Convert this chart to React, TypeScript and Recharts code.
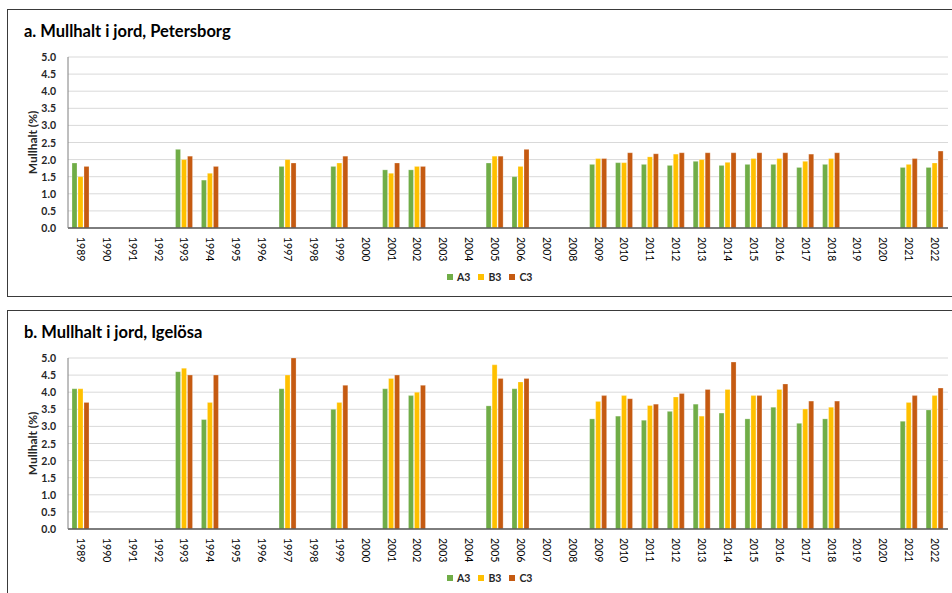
import React from 'react';
import { BarChart, Bar, XAxis, YAxis, CartesianGrid, Label } from 'recharts';

const years = [
  '1989', '1990', '1991', '1992', '1993', '1994', '1995', '1996', '1997', '1998',
  '1999', '2000', '2001', '2002', '2003', '2004', '2005', '2006', '2007', '2008',
  '2009', '2010', '2011', '2012', '2013', '2014', '2015', '2016', '2017', '2018',
  '2019', '2020', '2021', '2022',
];

const yTicks = [0, 0.5, 1, 1.5, 2, 2.5, 3, 3.5, 4, 4.5, 5];

// a. Petersborg
const petersborgA3 = [
  1.9, null, null, null, 2.3, 1.4, null, null, 1.8, null,
  1.8, null, 1.7, 1.7, null, null, 1.9, 1.5, null, null,
  1.86, 1.91, 1.86, 1.83, 1.95, 1.83, 1.86, 1.86, 1.77, 1.86,
  null, null, 1.77, 1.77,
];
const petersborgB3 = [
  1.5, null, null, null, 2.0, 1.6, null, null, 2.0, null,
  1.9, null, 1.6, 1.8, null, null, 2.1, 1.8, null, null,
  2.03, 1.91, 2.08, 2.16, 2.0, 1.92, 2.03, 2.03, 1.95, 2.03,
  null, null, 1.86, 1.9,
];
const petersborgC3 = [
  1.8, null, null, null, 2.1, 1.8, null, null, 1.9, null,
  2.1, null, 1.9, 1.8, null, null, 2.1, 2.3, null, null,
  2.03, 2.2, 2.17, 2.2, 2.2, 2.2, 2.2, 2.2, 2.16, 2.2,
  null, null, 2.03, 2.25,
];

// b. Igelösa
const igelosaA3 = [
  4.1, null, null, null, 4.6, 3.2, null, null, 4.1, null,
  3.5, null, 4.1, 3.9, null, null, 3.6, 4.1, null, null,
  3.22, 3.3, 3.18, 3.44, 3.65, 3.39, 3.22, 3.56, 3.09, 3.22,
  null, null, 3.15, 3.48,
];
const igelosaB3 = [
  4.1, null, null, null, 4.7, 3.7, null, null, 4.5, null,
  3.7, null, 4.4, 4.0, null, null, 4.8, 4.3, null, null,
  3.73, 3.9, 3.61, 3.86, 3.3, 4.08, 3.9, 4.08, 3.51, 3.56,
  null, null, 3.7, 3.9,
];
const igelosaC3 = [
  3.7, null, null, null, 4.5, 4.5, null, null, 5.0, null,
  4.2, null, 4.5, 4.2, null, null, 4.4, 4.4, null, null,
  3.9, 3.81, 3.65, 3.96, 4.08, 4.88, 3.9, 4.24, 3.74, 3.74,
  null, null, 3.9, 4.12,
];

const FONT = 'Lato, "Open Sans", sans-serif';
const GREEN = '#70AD47';
const YELLOW = '#FFC000';
const ORANGE = '#C55A11';

const YearTick = (props: any) => {
  const { x, y, payload } = props;
  return (
    <text
      x={0}
      y={0}
      transform={`translate(${x},${y}) rotate(90)`}
      textAnchor="start"
      dominantBaseline="central"
      fontSize={10.5}
      fontFamily={FONT}
      fill="#000"
    >
      {payload.value}
    </text>
  );
};

const ValueTick = (props: any) => {
  const { x, y, payload } = props;
  return (
    <text
      x={x}
      y={y}
      textAnchor="end"
      dominantBaseline="central"
      fontSize={10.5}
      fontWeight={700}
      fontFamily={FONT}
      fill="#262626"
    >
      {Number(payload.value).toFixed(1)}
    </text>
  );
};

const YLabel = (props: any) => {
  const { viewBox } = props;
  const cy = viewBox.y + viewBox.height / 2;
  return (
    <text
      x={32}
      y={cy}
      transform={`rotate(-90 32 ${cy})`}
      textAnchor="middle"
      dominantBaseline="central"
      fontSize={12}
      fontWeight={700}
      fontFamily={FONT}
      fill="#262626"
    >
      Mullhalt (%)
    </text>
  );
};

const LegendItem = ({ color, label }: { color: string; label: string }) => (
  <div style={{ display: 'flex', alignItems: 'center', marginRight: 8 }}>
    <div style={{ width: 6, height: 6, background: color, marginRight: 4 }} />
    <span style={{ fontSize: 10.5, fontWeight: 700, color: '#262626' }}>{label}</span>
  </div>
);

interface PanelProps {
  top: number;
  title: string;
  a3: (number | null)[];
  b3: (number | null)[];
  c3: (number | null)[];
}

const Panel: React.FC<PanelProps> = ({ top, title, a3, b3, c3 }) => {
  const data = years.map((year, i) => ({ year, A3: a3[i], B3: b3[i], C3: c3[i] }));

  return (
    <div style={{ position: 'absolute', left: 0, top, width: 952, height: 296, fontFamily: FONT }}>
      <div
        style={{
          position: 'absolute',
          left: 7,
          top: 9,
          width: 960,
          height: 288,
          boxSizing: 'border-box',
          border: '1px solid #3a3a3a',
        }}
      />
      <div
        style={{
          position: 'absolute',
          left: 24,
          top: 21,
          fontSize: 16.5,
          fontWeight: 700,
          lineHeight: '20px',
          color: '#000',
          whiteSpace: 'nowrap',
        }}
      >
        {title}
      </div>
      <div style={{ position: 'absolute', left: 0, top: 0 }}>
        <BarChart
          width={952}
          height={296}
          data={data}
          margin={{ top: 57, right: 4, bottom: 0, left: 20 }}
          barSize={5}
          barGap={1}
        >
          <CartesianGrid vertical={false} stroke="#D9D9D9" strokeWidth={1} />
          <XAxis
            dataKey="year"
            interval={0}
            height={68}
            tickLine={false}
            tickSize={0}
            tickMargin={9}
            axisLine={{ stroke: '#595959', strokeWidth: 1.5 }}
            tick={<YearTick />}
          />
          <YAxis
            domain={[0, 5]}
            ticks={yTicks}
            interval={0}
            width={48}
            tickLine={false}
            tickMargin={6}
            axisLine={{ stroke: '#7f7f7f' }}
            tick={<ValueTick />}
          >
            <Label content={<YLabel />} />
          </YAxis>
          <Bar dataKey="A3" fill={GREEN} stroke="#ffffff" strokeOpacity={0.5} strokeWidth={0.5} isAnimationActive={false} />
          <Bar dataKey="B3" fill={YELLOW} stroke="#ffffff" strokeOpacity={0.5} strokeWidth={0.5} isAnimationActive={false} />
          <Bar dataKey="C3" fill={ORANGE} stroke="#ffffff" strokeOpacity={0.5} strokeWidth={0.5} isAnimationActive={false} />
        </BarChart>
      </div>
      <div style={{ position: 'absolute', left: 447, top: 271, display: 'flex', alignItems: 'center' }}>
        <LegendItem color={GREEN} label="A3" />
        <LegendItem color={YELLOW} label="B3" />
        <LegendItem color={ORANGE} label="C3" />
      </div>
    </div>
  );
};

export default function App() {
  return (
    <div>
      <Panel top={0} title="a. Mullhalt i jord, Petersborg" a3={petersborgA3} b3={petersborgB3} c3={petersborgC3} />
      <Panel top={301} title="b. Mullhalt i jord, Igelösa" a3={igelosaA3} b3={igelosaB3} c3={igelosaC3} />
    </div>
  );
}
